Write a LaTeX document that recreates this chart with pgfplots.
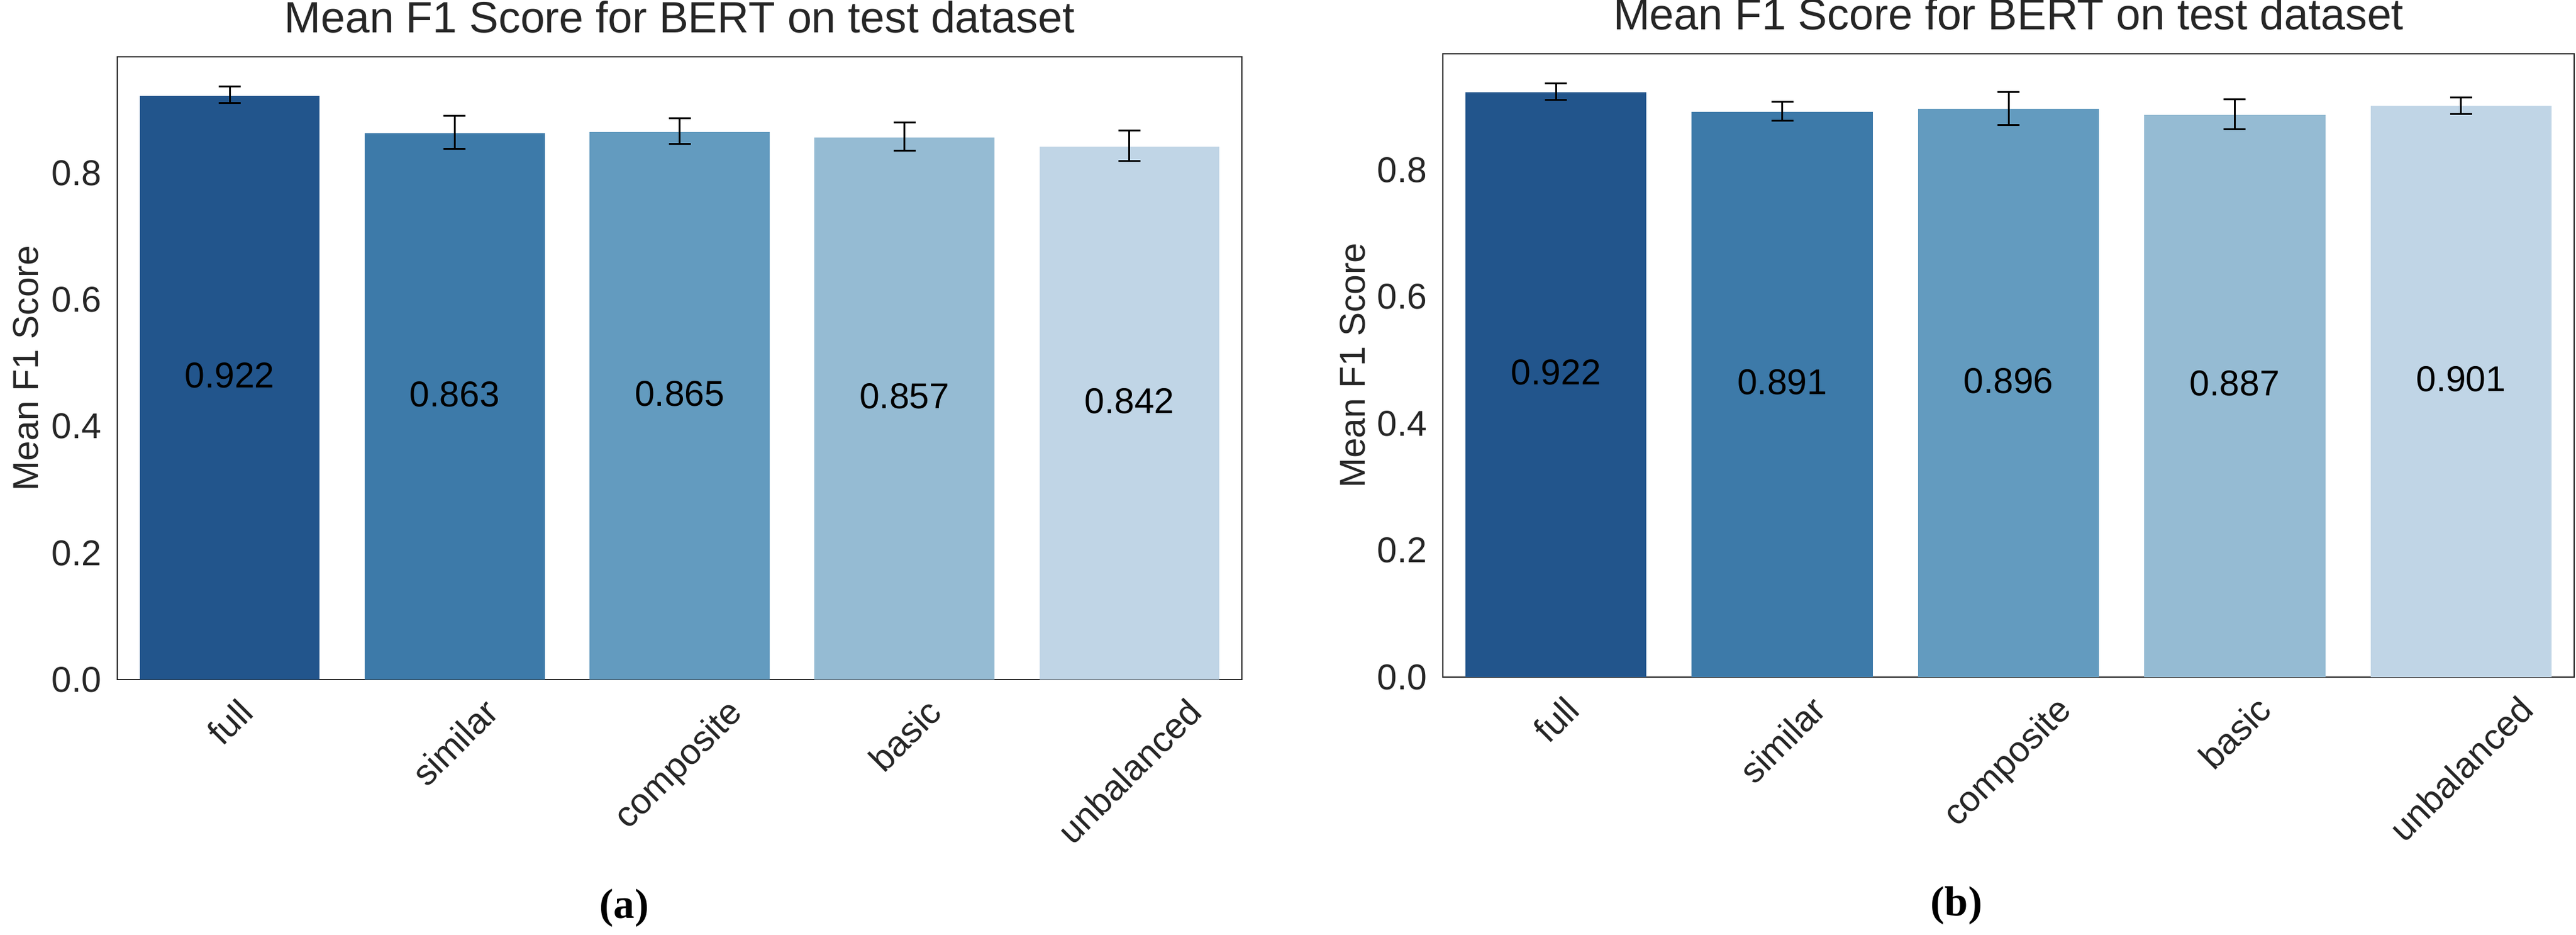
\documentclass[border=0pt]{standalone}
\usepackage{fontspec}
\setmainfont{Liberation Sans}
\newfontfamily\capfont{Liberation Serif}
\usepackage{pgfplots}
\pgfplotsset{compat=1.18}
\usepackage{graphicx}

\definecolor{c0}{HTML}{262626}
\definecolor{c1}{HTML}{22558C}
\definecolor{c2}{HTML}{3D7AA9}
\definecolor{c3}{HTML}{639BBF}
\definecolor{c4}{HTML}{95BBD3}
\definecolor{c5}{HTML}{C0D5E6}

\newcommand{\lbl}{\fontsize{16.7}{20}\selectfont}

\pgfplotsset{
  f1panel/.style={
    scale only axis,
    anchor=south west,
    xmin=-0.5, xmax=4.5,
    ymin=0,
    xtick={0,1,2,3,4},
    xticklabels={\rotatebox{45}{full},\rotatebox{45}{similar},\rotatebox{45}{composite},\rotatebox{45}{basic},\rotatebox{45}{unbalanced}},
    ytick={0,0.2,0.4,0.6,0.8},
    yticklabel style={/pgf/number format/fixed, /pgf/number format/fixed zerofill, /pgf/number format/precision=1, /pgf/number format/assume math mode=true},
    major tick length=0pt,
    axis line style={draw=c0, line width=0.6pt},
    tick label style={font=\lbl, text=c0, inner sep=0pt},
    yticklabel style={anchor=east, xshift=-0.25cm},
    xticklabel style={anchor=north, yshift=-0.27cm},
    title={Mean F1 Score for BERT on test dataset},
    title style={at={(axis description cs:0.5,1)}, anchor=base, yshift=0.18cm, inner sep=0pt, font=\fontsize{20.4}{24}\selectfont, text=c0},
    ylabel={Mean F1 Score},
    ylabel style={anchor=south, inner sep=0pt, font=\lbl, text=c0},
  },
  f1bar/.style={
    ybar, bar width=0.8, bar shift=0pt, draw=none, fill=#1,
    error bars/.cd, y dir=both, y explicit,
    error bar style={draw=black, line width=0.85pt},
    error mark options={rotate=90, mark size=0.18cm, line width=0.85pt, draw=black},
  },
  f1text/.style={
    only marks, mark=none,
    nodes near coords, point meta=explicit symbolic,
    nodes near coords style={anchor=base, inner sep=0pt, font=\lbl, text=black},
  },
}

\begin{document}
\begin{tikzpicture}
\useasboundingbox (0,0) rectangle (42.17,15.29);

% (a)
\begin{axis}[f1panel, at={(1.92cm,4.17cm)}, width=18.41cm, height=10.19cm, ymax=0.984,
  ylabel style={at={(axis description cs:-0.0695,0.5)}}]
\addplot[f1bar=c1] coordinates {(0,0.922) += (0,0.015) -= (0,0.011)};
\addplot[f1bar=c2] coordinates {(1,0.863) += (0,0.028) -= (0,0.024)};
\addplot[f1bar=c3] coordinates {(2,0.865) += (0,0.022) -= (0,0.019)};
\addplot[f1bar=c4] coordinates {(3,0.857) += (0,0.023) -= (0,0.021)};
\addplot[f1bar=c5] coordinates {(4,0.842) += (0,0.026) -= (0,0.023)};
\addplot[f1text] coordinates {(0,0.461)[0.922] (1,0.4315)[0.863] (2,0.4325)[0.865] (3,0.4285)[0.857] (4,0.421)[0.842]};
\end{axis}

% (b)
\begin{axis}[f1panel, at={(23.62cm,4.21cm)}, width=18.52cm, height=10.20cm, ymax=0.983,
  ylabel style={at={(axis description cs:-0.068,0.5)}}]
\addplot[f1bar=c1] coordinates {(0,0.922) += (0,0.014) -= (0,0.012)};
\addplot[f1bar=c2] coordinates {(1,0.891) += (0,0.016) -= (0,0.014)};
\addplot[f1bar=c3] coordinates {(2,0.896) += (0,0.027) -= (0,0.025)};
\addplot[f1bar=c4] coordinates {(3,0.887) += (0,0.024) -= (0,0.023)};
\addplot[f1bar=c5] coordinates {(4,0.901) += (0,0.013) -= (0,0.013)};
\addplot[f1text] coordinates {(0,0.461)[0.922] (1,0.4455)[0.891] (2,0.448)[0.896] (3,0.4435)[0.887] (4,0.4505)[0.901]};
\end{axis}

\node[anchor=base, inner sep=0pt, font=\capfont\bfseries\fontsize{19.6}{24}\selectfont] at (10.22,0.27) {(a)};
\node[anchor=base, inner sep=0pt, font=\capfont\bfseries\fontsize{19.6}{24}\selectfont] at (32.03,0.31) {(b)};
\end{tikzpicture}
\end{document}
